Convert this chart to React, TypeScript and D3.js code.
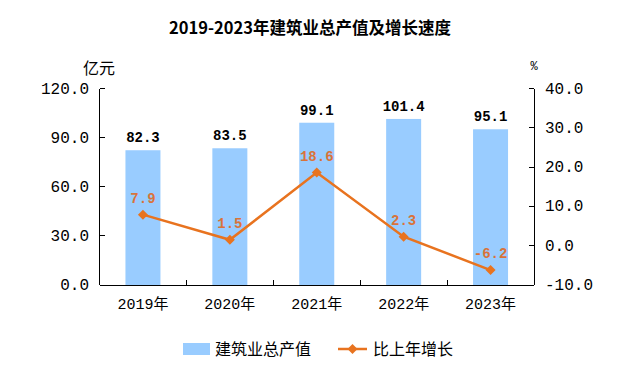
import React from "react";
import * as d3 from "d3";

// 数据
const years = ["2019年", "2020年", "2021年", "2022年", "2023年"];
const outputValues = [82.3, 83.5, 99.1, 101.4, 95.1];
const growthRates = [7.9, 1.5, 18.6, 2.3, -6.2];
const leftTicks = [0, 30, 60, 90, 120];
const rightTicks = [-10, 0, 10, 20, 30, 40];

const W = 622;
const H = 372;
const left = 99.5;
const right = 534;
const top = 88.5;
const bottom = 285;

const barColor = "#99CCFF";
const lineColor = "#E8731F";
const labelColor = "#D9733A";
const numFont = "'Liberation Mono', 'Noto Sans CJK SC', monospace";
const cjkFont = "'Noto Sans CJK SC', sans-serif";

const App: React.FC = () => {
  const x = d3.scaleBand<string>().domain(years).range([left, right]);
  const yL = d3.scaleLinear().domain([0, 120]).range([bottom, top]);
  const yR = d3.scaleLinear().domain([-10, 40]).range([bottom, top]);
  const barW = 35;
  const cx = (d: string) => (x(d) ?? 0) + x.bandwidth() / 2;

  const line = d3
    .line<number>()
    .x((_, i) => cx(years[i]))
    .y((d) => yR(d));

  const diamond = (px: number, py: number, r: number) =>
    `M${px},${py - r}L${px + r},${py}L${px},${py + r}L${px - r},${py}Z`;

  return (
    <svg
      width={W}
      height={H}
      style={{ position: "absolute", left: 0, top: 0, background: "#fff" }}
    >
      {/* 标题 */}
      <text
        x={310}
        y={34}
        textAnchor="middle"
        fontFamily={cjkFont}
        fontWeight="bold"
        fontSize={16.5}
        fill="#000"
      >
        2019-2023年建筑业总产值及增长速度
      </text>

      {/* 单位 */}
      <text x={99} y={74} textAnchor="middle" fontFamily={cjkFont} fontSize={16}>
        亿元
      </text>
      <text x={534} y={70} textAnchor="middle" fontFamily={numFont} fontSize={12}>
        %
      </text>

      {/* 柱子 */}
      {outputValues.map((v, i) => (
        <rect
          key={"b" + i}
          x={cx(years[i]) - barW / 2}
          y={yL(v)}
          width={barW}
          height={bottom - yL(v)}
          fill={barColor}
        />
      ))}

      {/* 坐标轴 */}
      <g stroke="#000" strokeWidth={1} shapeRendering="crispEdges">
        <line x1={left} x2={left} y1={top} y2={bottom} />
        <line x1={right} x2={right} y1={top} y2={bottom} />
        <line x1={left} x2={right} y1={bottom} y2={bottom} />
        {leftTicks.map((t) => (
          <line key={"lt" + t} x1={left} x2={left + 5} y1={yL(t)} y2={yL(t)} />
        ))}
        {rightTicks.map((t) => (
          <line key={"rt" + t} x1={right - 5} x2={right} y1={yR(t)} y2={yR(t)} />
        ))}
        {years.slice(1).map((d) => (
          <line key={"xt" + d} x1={x(d)} x2={x(d)} y1={bottom - 5} y2={bottom} />
        ))}
      </g>

      {leftTicks.map((t) => (
        <text
          key={"ll" + t}
          x={89}
          y={yL(t) + 5}
          textAnchor="end"
          fontFamily={numFont}
          fontSize={16}
          fill="#000"
        >
          {t.toFixed(1)}
        </text>
      ))}
      {rightTicks.map((t) => (
        <text
          key={"rl" + t}
          x={545}
          y={yR(t) + 5}
          textAnchor="start"
          fontFamily={numFont}
          fontSize={16}
          fill="#000"
        >
          {t.toFixed(1)}
        </text>
      ))}
      {years.map((d) => (
        <text
          key={"xl" + d}
          x={cx(d)}
          y={309}
          textAnchor="middle"
          fontFamily={numFont}
          fontSize={15}
          fill="#000"
        >
          {d}
        </text>
      ))}

      {/* 柱顶数值 */}
      {outputValues.map((v, i) => (
        <text
          key={"bv" + i}
          x={cx(years[i])}
          y={yL(v) - 8}
          textAnchor="middle"
          fontFamily={numFont}
          fontWeight="bold"
          fontSize={14}
          fill="#000"
        >
          {v.toFixed(1)}
        </text>
      ))}

      {/* 折线 */}
      <path d={line(growthRates) ?? ""} fill="none" stroke={lineColor} strokeWidth={2.5} />
      {growthRates.map((v, i) => (
        <path key={"m" + i} d={diamond(cx(years[i]), yR(v), 5)} fill={lineColor} />
      ))}
      {growthRates.map((v, i) => (
        <text
          key={"lv" + i}
          x={cx(years[i])}
          y={yR(v) - 12}
          textAnchor="middle"
          fontFamily={numFont}
          fontWeight="bold"
          fontSize={14}
          fill={labelColor}
        >
          {v.toFixed(1)}
        </text>
      ))}

      {/* 图例 */}
      <rect x={183} y={343} width={27} height={12} fill={barColor} />
      <text x={215} y={355} fontFamily={cjkFont} fontSize={16} fill="#000">
        建筑业总产值
      </text>
      <line x1={338} x2={367} y1={349} y2={349} stroke={lineColor} strokeWidth={2.5} />
      <path d={diamond(352.5, 349, 5)} fill={lineColor} />
      <text x={373} y={355} fontFamily={cjkFont} fontSize={16} fill="#000">
        比上年增长
      </text>
    </svg>
  );
};

export default App;
